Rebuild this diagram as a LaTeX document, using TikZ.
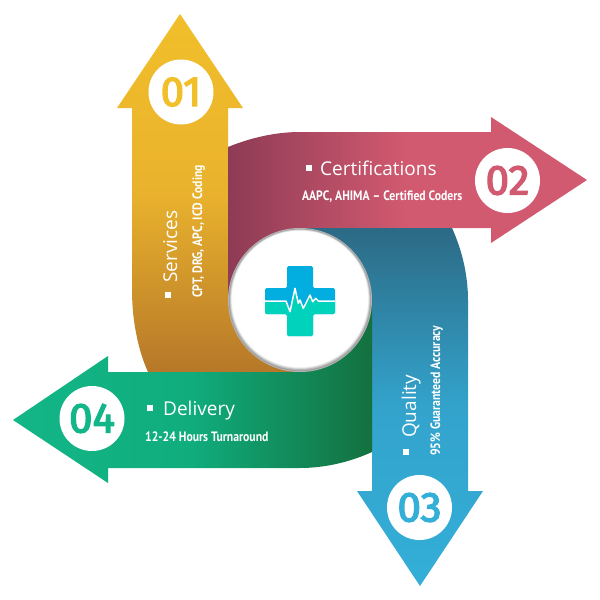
\documentclass[tikz,border=0pt]{standalone}
\usepackage{fontspec}
\setmainfont{Fira Sans}
\newfontfamily\titlefont{Open Sans}
\newfontfamily\smallfont[FakeStretch=0.86]{PT Sans}
\newfontfamily\numfont[FakeBold=3.2]{Fira Sans}
\definecolor{cyel}{HTML}{F1BF2A}
\definecolor{cyelm}{HTML}{E9B22D}
\definecolor{cyeld}{HTML}{B67829}
\definecolor{credd}{HTML}{8E3B55}
\definecolor{cred}{HTML}{D25A70}
\definecolor{cblud}{HTML}{2C6A85}
\definecolor{cblum}{HTML}{33A3CC}
\definecolor{cblu}{HTML}{33AFD8}
\definecolor{cgrn}{HTML}{13B688}
\definecolor{cgrnm}{HTML}{10AC7C}
\definecolor{cgrnd}{HTML}{14703F}
\definecolor{ccrossb}{HTML}{02AEE0}
\definecolor{ccrosst}{HTML}{00D2BB}
\tikzset{
 numdisc/.style={circle,fill=white,minimum size=65pt,inner sep=0pt,font=\numfont\fontsize{42}{42}\selectfont},
 titletext/.style={text=white,inner sep=0pt,font=\titlefont\fontsize{19}{20}\selectfont},
 subtext/.style={text=white,inner sep=0pt,font=\smallfont\fontsize{13.6}{14}\selectfont\bfseries},
 bulletmark/.style={fill=white,minimum size=6pt,inner sep=0pt},
}
\begin{document}
\begin{tikzpicture}[x=1pt,y=-1pt]
\useasboundingbox (0,0) rectangle (600,600);
\fill[white] (0,0) rectangle (600,600);
% yellow
\shade[top color=cyel,bottom color=cyeld,middle color=cyelm]
 (180,14) -- (243,108) -- (228,108) -- (228,300) -- (300,300) -- (300,372) -- (148,372)
 .. controls (138,350) and (132,320) .. (132,290) -- (132,108) -- (117,108) -- cycle;
% red
\shade[left color=credd,right color=cred,middle color=cred]
 (587,180) -- (491,243) -- (491,228) -- (300,228) -- (300,300) -- (228,300) -- (228,147)
 .. controls (250,138) and (275,132) .. (300,132) -- (491,132) -- (491,117) -- cycle;
% blue
\shade[top color=cblud,bottom color=cblu,middle color=cblum]
 (420,586) -- (357,491) -- (372,491) -- (372,300) -- (300,300) -- (300,228) -- (452,228)
 .. controls (462,250) and (468,275) .. (468,300) -- (468,491) -- (483,491) -- cycle;
% green
\shade[left color=cgrn,right color=cgrnd,middle color=cgrnm]
 (13,420) -- (108,356) -- (108,372) -- (300,372) -- (300,300) -- (372,300) -- (372,452)
 .. controls (350,462) and (325,468) .. (300,468) -- (108,468) -- (108,483) -- cycle;
% centre disc
\fill[black!28] (300,300) circle (72);
\fill[black!38] (300,300) circle (71.2);
\fill[black!28] (300,299.7) circle (70.4);
\fill[black!16] (300,299.4) circle (69.6);
\fill[black!7] (300,299.2) circle (68.9);
\fill[white] (300,299) circle (68.2);
% cross
\begin{scope}
\clip[rounded corners=1.5] (287,266) -- (313,266) -- (313,288) -- (335,288) -- (335,314) -- (313,314) -- (313,336) -- (287,336) -- (287,314) -- (265,314) -- (265,288) -- (287,288) -- cycle;
\fill[ccrossb] (260,260) rectangle (340,340);
\fill[ccrosst] (260,301) -- (286,301) -- (290,311.7) -- (295,288.3) -- (298.3,303.3) -- (300,300) -- (303.3,308.3) -- (310,295) -- (312.7,301.7) -- (315.7,298.3) -- (318.3,301) -- (340,301) -- (340,340) -- (260,340) -- cycle;
\draw[white,line width=1.5pt,line join=round] (260,301) -- (286,301) -- (290,311.7) -- (295,288.3) -- (298.3,303.3) -- (300,300) -- (303.3,308.3) -- (310,295) -- (312.7,301.7) -- (315.7,298.3) -- (318.3,301) -- (340,301);
\end{scope}
% number discs
\node[numdisc,text=cyel] (n1) at (181,92) {01};
\node[numdisc,text=cred] (n2) at (507.5,180.5) {02};
\node[numdisc,text=cblu] (n3) at (419.5,507.5) {03};
\node[numdisc,text=cgrn] (n4) at (92,418.5) {04};
% Services
\node[bulletmark] (b1) at (168,295) {};
\node[titletext,rotate=90,anchor=base west] (t1) at (177,283) {Services};
\node[subtext,rotate=90,anchor=base west] (s1) at (202,298) {CPT, DRG, APC, ICD Coding};
% Certifications
\node[bulletmark] (b2) at (308.5,167.5) {};
\node[titletext,anchor=base west] (t2) at (320,175) {Certifications};
\node[subtext,anchor=base west] (s2) at (302,200) {AAPC, AHIMA – Certified Coders};
% Quality
\node[bulletmark] (b3) at (406,451.5) {};
\node[titletext,rotate=90,anchor=base west] (t3) at (416,438) {Quality};
\node[subtext,rotate=90,anchor=base west] (s3) at (440,456) {95\% Guaranteed Accuracy};
% Delivery
\node[bulletmark] (b4) at (150,408) {};
\node[titletext,anchor=base west] (t4) at (163,415) {Delivery};
\node[subtext,anchor=base west] (s4) at (145,441) {12-24 Hours Turnaround};
\end{tikzpicture}
\end{document}
